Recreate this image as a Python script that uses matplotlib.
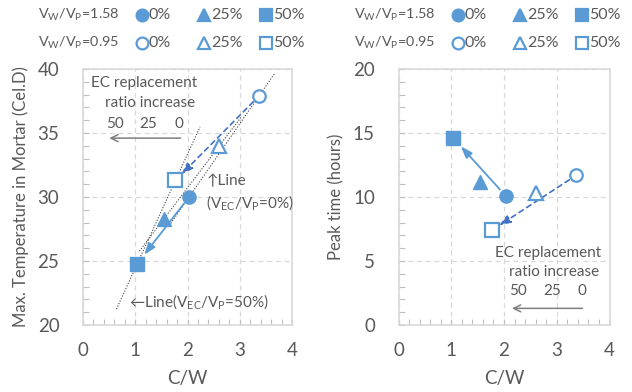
import numpy as np
import matplotlib
matplotlib.use("Agg")
import matplotlib.pyplot as plt
from matplotlib.lines import Line2D

plt.rcParams['font.family'] = ['Lato', 'DejaVu Sans']
plt.rcParams['mathtext.fontset'] = 'custom'
plt.rcParams['mathtext.rm'] = 'Lato'
plt.rcParams['mathtext.it'] = 'Lato'
plt.rcParams['mathtext.default'] = 'regular'

# C/W of the mixes, EC replacement 0 / 25 / 50 %
cw_158 = [2.03, 1.55, 1.04]
cw_095 = [3.37, 2.61, 1.77]
# max. temperature in mortar (Cel.D)
temp_158 = [30.0, 28.3, 24.8]
temp_095 = [37.9, 34.0, 31.3]
# peak time (hours)
peak_158 = [10.1, 11.2, 14.6]
peak_095 = [11.7, 10.3, 7.4]

ec_labels = ['0%', '25%', '50%']
markers = ['o', '^', 's']
# how far each dotted line runs past its two points (left, right) in C/W
line_ext = [(0.38, 0.30), (0.47, 0.42), (0.40, 0.47)]

BLUE = '#5B9BD5'
DARK = '#4472C4'
GREY = '#595959'
LIGHT = '#D9D9D9'

W, H = 632, 392
fig = plt.figure(figsize=(W / 100, H / 100), dpi=100)


def px(x, y):
    return x / W, 1 - y / H


def style_axes(ax, ylim, ystep, ylabel):
    ax.set_xlim(0, 4)
    ax.set_ylim(*ylim)
    ax.set_xticks(np.arange(0, 5, 1))
    ax.set_yticks(np.arange(ylim[0], ylim[1] + 0.1, ystep))
    ax.set_xticks(np.arange(0, 4.01, 0.2), minor=True)
    ax.set_yticks(np.arange(ylim[0], ylim[1] + 0.1, ystep / 5), minor=True)
    ax.grid(True, which='major', color=LIGHT, linestyle=(0, (4, 3)), linewidth=0.9)
    ax.set_axisbelow(True)
    for s in ax.spines.values():
        s.set_color(LIGHT)
        s.set_linewidth(1.2)
    ax.tick_params(which='both', direction='in', color='#BFBFBF', length=4,
                   labelsize=13.5, labelcolor=GREY, width=0.8)
    ax.tick_params(axis='x', pad=12)
    ax.tick_params(axis='y', pad=17)
    ax.set_xlabel('C/W', fontsize=13.5, color=GREY, labelpad=8)
    ax.set_ylabel(ylabel, fontsize=12, color=GREY, labelpad=6)


def draw_points(ax, y158, y095):
    for i in range(3):
        ax.plot(cw_158[i], y158[i], marker=markers[i], color=BLUE, ms=10 if i else 9.5,
                linestyle='none', zorder=5)
        ax.plot(cw_095[i], y095[i], marker=markers[i], mfc='white', mec=BLUE, mew=1.6,
                ms=9.5 if i else 9, linestyle='none', zorder=5)


def draw_arrows(ax, y158, y095):
    ax.annotate('', xy=(cw_158[2], y158[2]), xytext=(cw_158[0], y158[0]),
                arrowprops=dict(arrowstyle='-|>,head_length=0.7,head_width=0.25',
                                color=BLUE, lw=1.3, shrinkA=6, shrinkB=8), zorder=4)
    ax.annotate('', xy=(cw_095[2], y095[2]), xytext=(cw_095[0], y095[0]),
                arrowprops=dict(arrowstyle='-|>,head_length=0.7,head_width=0.25',
                                color=DARK, lw=1.2, linestyle=(0, (3, 2.5)),
                                shrinkA=6, shrinkB=6), zorder=4)


def ratio_note(ax, x, y, dy, nums_x, arrow_x, arrow_y):
    kw = dict(fontsize=11, color=GREY, ha='center', va='center')
    ax.text(x, y, 'EC replacement', **kw)
    ax.text(x + 0.12, y - dy, 'ratio increase', **kw)
    for xx, t in zip(nums_x, ['50', '25', '0']):
        ax.text(xx, y - 2.05 * dy, t, **kw)
    ax.annotate('', xy=(arrow_x[1], arrow_y), xytext=(arrow_x[0], arrow_y),
                arrowprops=dict(arrowstyle='->,head_length=0.5,head_width=0.25',
                                color='#7F7F7F', lw=1.1))


# left: max. temperature
ax1 = fig.add_axes([83 / W, 1 - 325 / H, 209 / W, 256 / H])
style_axes(ax1, (20, 40), 5, 'Max. Temperature in Mortar (Cel.D)')
for i in range(3):
    x0, x1 = cw_158[i], cw_095[i]
    y0, y1 = temp_158[i], temp_095[i]
    k = (y1 - y0) / (x1 - x0)
    xs = np.array([min(x0, x1) - line_ext[i][0], max(x0, x1) + line_ext[i][1]])
    ax1.plot(xs, y0 + k * (xs - x0), color='#404040', lw=0.8,
             linestyle=(0, (1, 1.5)), zorder=3)
draw_arrows(ax1, temp_158, temp_095)
draw_points(ax1, temp_158, temp_095)
ratio_note(ax1, 1.17, 38.9, 1.55, [0.62, 1.24, 1.84], (1.92, 0.45), 34.6)
ax1.text(2.36, 31.2, '↑Line', fontsize=11, color=GREY, va='center')
ax1.text(2.36, 29.6, '(V$_{EC}$/V$_P$=0%)', fontsize=11, color=GREY, va='center')
ax1.text(0.88, 21.85, '←Line(V$_{EC}$/V$_P$=50%)', fontsize=11, color=GREY, va='center')

# right: peak time
ax2 = fig.add_axes([398.5 / W, 1 - 325 / H, 211 / W, 256 / H])
style_axes(ax2, (0, 20), 5, 'Peak time (hours)')
draw_arrows(ax2, peak_158, peak_095)
draw_points(ax2, peak_158, peak_095)
ratio_note(ax2, 2.83, 5.62, 1.45, [2.26, 2.91, 3.47], (3.54, 2.10), 1.3)

# legend rows above each chart
rows = [('V$_W$/V$_P$=1.58', BLUE, 15), ('V$_W$/V$_P$=0.95', 'white', 43)]
for dx in (0, 316):
    for label, face, y in rows:
        fig.text(*px(38 + dx, y), label, fontsize=10.4, color=GREY, va='center')
        for mx, m, t in zip([141.7, 204, 266], markers, ec_labels):
            fig.add_artist(Line2D([px(mx + dx, y)[0]], [px(mx + dx, y)[1]],
                                  transform=fig.transFigure, marker=m, mfc=face,
                                  mec=BLUE, mew=1.6, ms=8.5, linestyle='none'))
            fig.text(*px(mx + dx + 7, y), t, fontsize=11.5, color=GREY, va='center')

fig.savefig('out.png', dpi=100)
